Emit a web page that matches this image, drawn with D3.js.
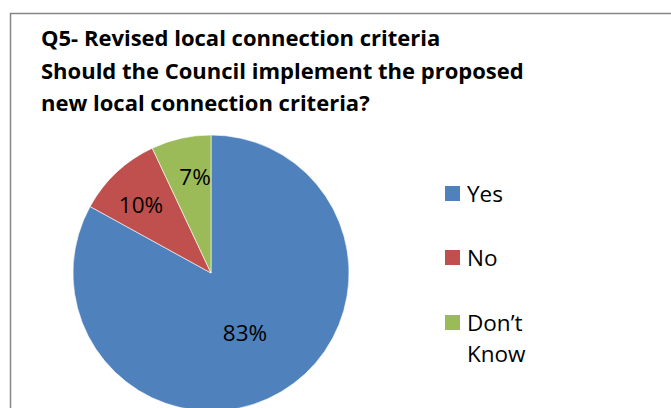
<!DOCTYPE html>
<html><head><meta charset="utf-8">
<script src="https://cdn.jsdelivr.net/npm/d3@7"></script>
<style>html,body{margin:0;padding:0;background:#fff;overflow:hidden}</style>
</head><body>
<svg id="chart" width="671" height="408"></svg>
<script>
const categories = ["Yes", "No", "Don\u2019t Know"];
const values = [83, 10, 7];
const labels = ["83%", "10%", "7%"];
const colors = ["#4F81BD", "#C0504D", "#9BBB59"];
const titleLines = ["Q5- Revised local connection criteria", "Should the Council implement the proposed", "new local connection criteria?"];

const svg = d3.select("#chart");
const font = "'Open Sans', Lato, sans-serif";

svg.append("rect").attr("x", 10.5).attr("y", 13.5).attr("width", 700).attr("height", 500)
  .attr("fill", "#fff").attr("stroke", "#868686").attr("stroke-width", 1.5);

svg.append("g").selectAll("text").data(titleLines).join("text")
  .attr("x", 41).attr("y", (d, i) => 46 + i * 32.5)
  .attr("font-family", font).attr("font-weight", "bold").attr("font-size", 22)
  .attr("fill", "#000").text(d => d);

const cx = 211, cy = 273, r = 138;
const pie = d3.pie().sort(null).value(d => d)(values);
const arc = d3.arc().innerRadius(0).outerRadius(r);
const g = svg.append("g").attr("transform", `translate(${cx},${cy})`);
g.selectAll("path").data(pie).join("path")
  .attr("d", arc).attr("fill", (d, i) => colors[i])
  .attr("stroke", "#fff").attr("stroke-width", 0.6);

const labelPos = [[34, 59.5], [-70, -68.5], [-16, -96.5]];
g.selectAll("text").data(pie).join("text")
  .attr("x", (d, i) => labelPos[i][0]).attr("y", (d, i) => labelPos[i][1])
  .attr("text-anchor", "middle").attr("dominant-baseline", "central")
  .attr("font-family", font).attr("font-size", 22.5).attr("fill", "#000")
  .text((d, i) => labels[i]);

const legY = [186, 250, 315];
const leg = svg.append("g");
categories.forEach((c, i) => {
  leg.append("rect").attr("x", 445).attr("y", legY[i]).attr("width", 15).attr("height", 15).attr("fill", colors[i]);
  const words = c === "Don\u2019t Know" ? ["Don\u2019t", "Know"] : [c];
  words.forEach((w, j) => {
    leg.append("text").attr("x", 467).attr("y", legY[i] + 16 + j * 31)
      .attr("font-family", font).attr("font-size", 22.5).attr("fill", "#000").text(w);
  });
});
</script>
</body></html>
